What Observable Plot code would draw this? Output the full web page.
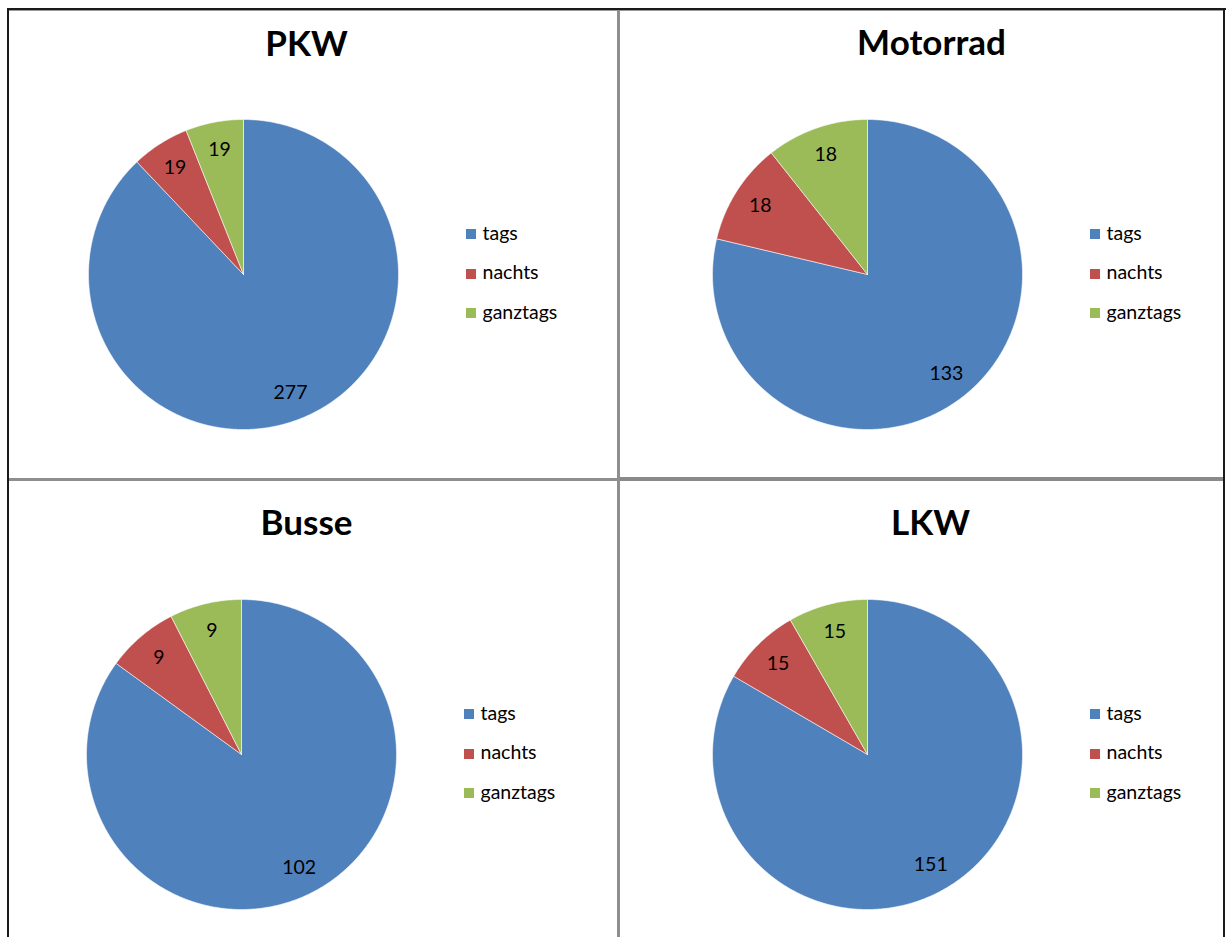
<!DOCTYPE html>
<html><head><meta charset="utf-8">
<script src="https://cdn.jsdelivr.net/npm/d3@7"></script>
<script src="https://cdn.jsdelivr.net/npm/@observablehq/plot@0.6"></script>
<style>
html,body{margin:0;padding:0;background:#fff;}
#page{position:relative;width:1226px;height:937px;overflow:hidden;background:#fff;font-family:Lato,"Open Sans",sans-serif;}
.ln{position:absolute;}
.title{position:absolute;font-weight:700;font-size:35px;line-height:35px;color:#000;white-space:nowrap;transform:translateX(-50%);}
.sw{position:absolute;width:10px;height:10px;}
.lt{position:absolute;font-size:19.5px;line-height:19.5px;color:#000;white-space:nowrap;}
</style></head>
<body><div id="page"></div>
<script>
// ---- data ----
const categories = ["tags", "nachts", "ganztags"];
const colors = ["#4F81BD", "#C0504D", "#9BBB59"];
const titles = ["PKW", "Motorrad", "Busse", "LKW"];
const pkw = [277, 19, 19];
const motorrad = [133, 18, 18];
const busse = [102, 9, 9];
const lkw = [151, 15, 15];

const series = [pkw, motorrad, busse, lkw];

// ---- layout ----
const page = document.getElementById("page");
const R = 155;
const panels = [
  {cx: 242.5, cy: 273.5, tx: 306.5, tBase: 56},
  {cx: 866.5, cy: 273.5, tx: 931.5, tBase: 55},
  {cx: 240.5, cy: 753.5, tx: 306.5, tBase: 535},
  {cx: 866.5, cy: 753.5, tx: 930.5, tBase: 535}
];

function line(x, y, w, h, c) {
  const d = document.createElement("div");
  d.className = "ln";
  Object.assign(d.style, {left: x + "px", top: y + "px", width: w + "px", height: h + "px", background: c});
  page.appendChild(d);
}

function pie(values) {
  const total = d3.sum(values);
  const pts = [], labels = [];
  let acc = 0;
  values.forEach((v, i) => {
    const cat = categories[i];
    const a0 = acc / total * 2 * Math.PI, a1 = (acc + v) / total * 2 * Math.PI;
    const n = Math.max(2, Math.ceil((a1 - a0) / (Math.PI / 360)));
    pts.push({cat, x: 0, y: 0});
    for (let k = 0; k <= n; k++) {
      const a = a0 + (a1 - a0) * k / n;
      pts.push({cat, x: Math.sin(a), y: Math.cos(a)});
    }
    pts.push({cat, x: 0, y: 0});
    const m = (a0 + a1) / 2;
    labels.push({cat, v, x: 0.82 * Math.sin(m), y: 0.82 * Math.cos(m)});
    acc += v;
  });
  const pad = 3;
  const size = 2 * R + 2 * pad;
  return Plot.plot({
    width: size, height: size, margin: pad,
    style: {background: "transparent", overflow: "visible"},
    x: {domain: [-1, 1], axis: null},
    y: {domain: [-1, 1], axis: null},
    color: {domain: categories, range: colors},
    marks: [
      Plot.line(pts, {x: "x", y: "y", z: "cat", fill: "cat", stroke: "white", strokeWidth: 0.8, strokeOpacity: 0.7, curve: "linear"}),
      Plot.text(labels, {x: "x", y: "y", text: "v", fill: "#000", fontSize: 19.5, fontFamily: "Lato"})
    ]
  });
}

panels.forEach((p, i) => {
  const svg = pie(series[i]);
  svg.style.position = "absolute";
  svg.style.left = (p.cx - R - 3) + "px";
  svg.style.top = (p.cy - R - 3) + "px";
  page.appendChild(svg);

  const t = document.createElement("div");
  t.className = "title";
  t.textContent = titles[i];
  t.style.left = p.tx + "px";
  t.style.top = (p.tBase - 31) + "px";
  page.appendChild(t);

  categories.forEach((c, j) => {
    const yc = p.cy - 39.5 + j * 39.5;
    const s = document.createElement("div");
    s.className = "sw";
    s.style.background = colors[j];
    s.style.left = (p.cx + 223) + "px";
    s.style.top = (yc - 5) + "px";
    page.appendChild(s);
    const l = document.createElement("div");
    l.className = "lt";
    l.textContent = c;
    l.style.left = (p.cx + 240) + "px";
    l.style.top = (yc - 11.5) + "px";
    page.appendChild(l);
  });
});

// frame lines
line(7, 8, 1219, 2, "#1a1a1a");
line(9, 10, 1215, 1, "#9a9a9a");
line(7, 8, 2, 929, "#1a1a1a");
line(1223, 8, 2, 929, "#1a1a1a");
line(617, 10, 3, 927, "#8e8e8e");
line(9, 478, 608, 3, "#8e8e8e");
line(620, 477, 603, 4, "#8a8a8a");
</script>
</body></html>
